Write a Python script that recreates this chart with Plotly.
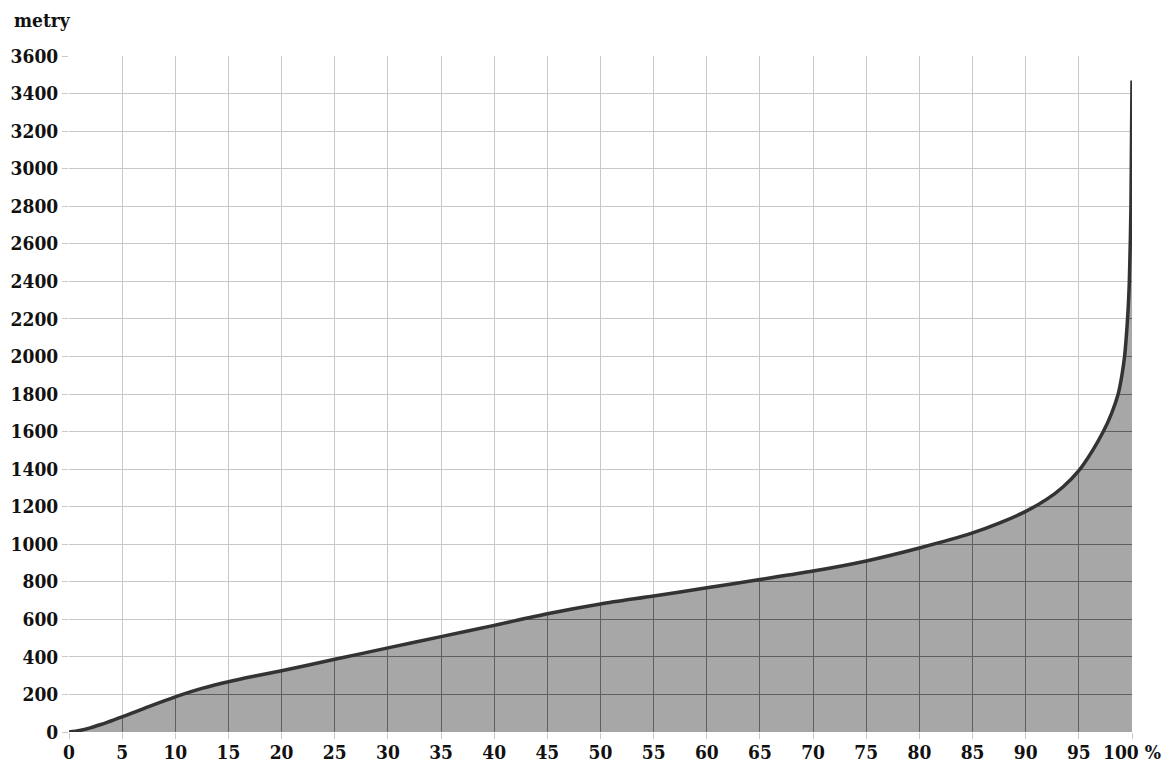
import plotly.graph_objects as go

# Data (cumulative share in %, height in metres)
pct = [0, 1, 2, 3, 4, 5, 7.5, 10, 12.5, 15, 17.5, 20, 25, 30, 35, 40, 45, 50, 55,
       60, 65, 70, 75, 80, 85, 87.5, 90, 92, 93.5, 95, 96.3, 97.3, 98.1, 98.7,
       99.05, 99.3, 99.58, 99.75, 99.9, 100]
metres = [0, 8, 22, 40, 60, 80, 135, 187, 232, 268, 298, 326, 387, 448, 508, 568,
          630, 682, 724, 768, 812, 857, 911, 980, 1060, 1112, 1175, 1240, 1305,
          1392, 1500, 1600, 1700, 1800, 1900, 2000, 2200, 2400, 2800, 3470]

x_ticks = list(range(0, 101, 5))
x_labels = [str(v) for v in x_ticks[:-1]] + ["100 %"]
y_ticks = list(range(0, 3601, 200))
y_labels = [str(v) for v in y_ticks]
Y_MAX = 3600
X_MAX = 100
y_title = "metry"

FONT = dict(family="DejaVu Serif Condensed, DejaVu Serif", size=19,
            color="#111111", weight="bold")
GRID_DARK = "rgb(90,90,90)"
LINE_SHAPE = dict(shape="spline", smoothing=0.8)

fig = go.Figure()
# top boundary (invisible) used to lighten the grid above the curve
fig.add_trace(go.Scatter(x=pct, y=[Y_MAX] * len(pct), mode="lines",
                         line=dict(width=0), hoverinfo="skip", showlegend=False))
fig.add_trace(go.Scatter(x=pct, y=metres, mode="lines", fill="tonexty",
                         fillcolor="rgba(255,255,255,0.667)",
                         line=dict(width=0, **LINE_SHAPE),
                         hoverinfo="skip", showlegend=False))
# gray area under the curve
fig.add_trace(go.Scatter(x=pct, y=metres, mode="lines", fill="tozeroy",
                         fillcolor="rgba(100,100,100,0.564)",
                         line=dict(color="#333333", width=3.5, **LINE_SHAPE),
                         showlegend=False))

fig.update_layout(
    width=1166, height=764,
    margin=dict(l=69, r=34, t=56, b=32),
    paper_bgcolor="white", plot_bgcolor="white",
    font=FONT,
    xaxis=dict(range=[0, X_MAX], tickvals=x_ticks, ticktext=x_labels,
               showgrid=True, gridcolor=GRID_DARK, gridwidth=1.3, zeroline=False,
               ticks="outside", ticklen=6, tickcolor="#c8c8c8", tickwidth=1.3,
               ticklabelstandoff=-3,
               showline=False, tickfont=FONT, automargin=False),
    yaxis=dict(range=[0, Y_MAX], tickvals=y_ticks, ticktext=y_labels,
               showgrid=True, gridcolor=GRID_DARK, gridwidth=1.3, zeroline=False,
               ticks="outside", ticklen=6, tickcolor="#c8c8c8", tickwidth=1.3,
               showline=False, tickfont=FONT, automargin=False),
    annotations=[dict(text=y_title, xref="paper", yref="paper", x=-0.054, y=1.053,
                      xanchor="left", yanchor="middle", showarrow=False, font=FONT)],
)

fig.write_html("out.html",
               config={"displayModeBar": False},
               post_script="document.body.style.margin='0';"
                           "document.body.style.overflow='hidden';")
